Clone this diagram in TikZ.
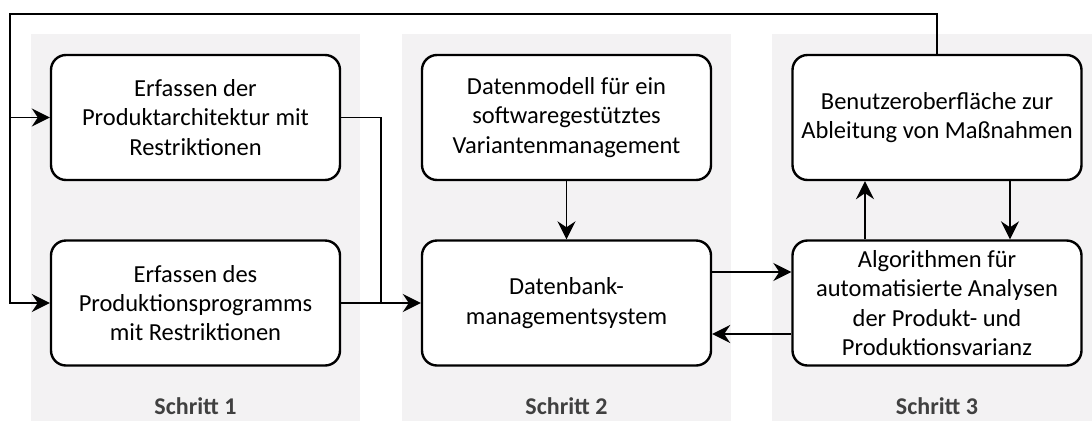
\documentclass[tikz,border=0pt]{standalone}
\usepackage{fontspec}
\setmainfont{Carlito}
\usetikzlibrary{arrows.meta}
\definecolor{panelgray}{HTML}{F3F2F3}
\definecolor{labelgray}{HTML}{404040}
\tikzset{
  box/.style={draw=black, line width=2.4pt, rounded corners=15pt, fill=white,
    minimum width=289pt, minimum height=125pt, align=center, inner sep=0pt,
    font=\fontsize{24.5}{29.3}\selectfont},
  conn/.style={line width=1.8pt, draw=black},
  arr/.style={conn, -{Stealth[length=18pt,width=18pt,inset=6pt]}},
  panel/.style={fill=panelgray, draw=none},
  steplabel/.style={font=\fontsize{24}{28}\selectfont\bfseries, text=labelgray}
}
\begin{document}
\begin{tikzpicture}[x=1pt,y=-1pt]
\useasboundingbox (0,0) rectangle (1092,421);
\fill[white] (0,0) rectangle (1092,421);
% panels
\fill[panel] (31,34) rectangle (360,421);
\fill[panel] (402,34) rectangle (731,421);
\fill[panel] (772,34) rectangle (1092,421);
% boxes
\node[box] (b1) at (195.5,117.5) {Erfassen der\\Produktarchitektur mit\\Restriktionen};
\node[box] (b2) at (195.5,303) {Erfassen des\\Produktionsprogramms\\mit Restriktionen};
\node[box] (b3) at (566.5,117.5) {Datenmodell für ein\\softwaregestütztes\\Variantenmanagement};
\node[box] (b4) at (566.5,303) {Datenbank-\\managementsystem};
\node[box] (b5) at (937,117.5) {Benutzeroberfläche zur\\Ableitung von Maßnahmen};
\node[box] (b6) at (937,303) {Algorithmen für\\automatisierte Analysen\\der Produkt- und\\Produktionsvarianz};
% labels
\node[steplabel] (s1) at (195.5,406) {Schritt 1};
\node[steplabel] (s2) at (566.5,406) {Schritt 2};
\node[steplabel] (s3) at (937,406) {Schritt 3};
% coordinates
\coordinate (tl) at (10,14);
\coordinate (j) at (381,303);
\coordinate (yA) at (0,272);
\coordinate (yB) at (0,334);
\coordinate (xU) at (865,0);
\coordinate (xD) at (1010,0);
% connectors
\draw[arr] (b5.north) |- (tl) |- (b2.west);
\draw[arr] (b1.west -| tl) -- (b1.west);
\draw[conn] (b1.east) -| (j);
\draw[arr] (b2.east) -- (b4.west);
\draw[arr] (b3.south) -- (b4.north);
\draw[arr] (b4.east |- yA) -- (b6.west |- yA);
\draw[arr] (b6.west |- yB) -- (b4.east |- yB);
\draw[arr] (b6.north -| xU) -- (b5.south -| xU);
\draw[arr] (b5.south -| xD) -- (b6.north -| xD);
\end{tikzpicture}
\end{document}
